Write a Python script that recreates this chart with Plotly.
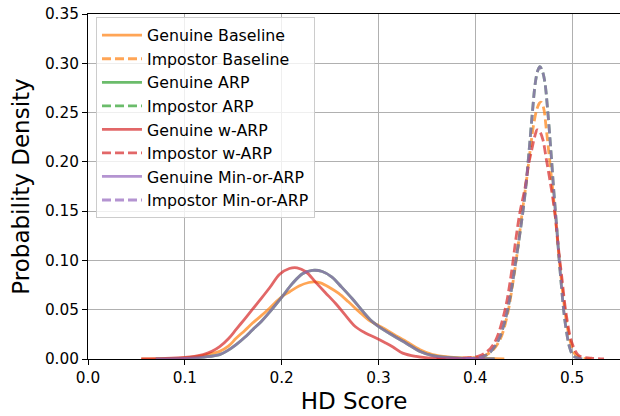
import plotly.graph_objects as go

# ---- Genuine score densities ----
genuine_baseline_x = [0.055, 0.08, 0.10, 0.115, 0.125, 0.136, 0.145, 0.153, 0.162, 0.170, 0.179,
                      0.188, 0.200, 0.208, 0.218, 0.228, 0.234, 0.240, 0.249, 0.259, 0.269, 0.280,
                      0.290, 0.300, 0.310, 0.320, 0.329, 0.343, 0.356, 0.374, 0.400, 0.430]
genuine_baseline_y = [0.0, 0.0004, 0.0012, 0.003, 0.005, 0.0077, 0.013, 0.021, 0.029, 0.0365, 0.044,
                      0.052, 0.063, 0.068, 0.074, 0.0776, 0.0782, 0.0772, 0.0728, 0.0665, 0.058, 0.048,
                      0.0395, 0.034, 0.0285, 0.0225, 0.0175, 0.0094, 0.0044, 0.002, 0.0008, 0.0]

genuine_warp_x = [0.055, 0.08, 0.10, 0.11, 0.119, 0.128, 0.136, 0.145, 0.153, 0.162, 0.170, 0.179,
                  0.188, 0.198, 0.208, 0.216, 0.225, 0.235, 0.245, 0.256, 0.266, 0.276, 0.287,
                  0.297, 0.307, 0.315, 0.325, 0.339, 0.356, 0.380, 0.410]
genuine_warp_y = [0.0, 0.0005, 0.0015, 0.0026, 0.0044, 0.0078, 0.0125, 0.0205, 0.030, 0.0408, 0.0505, 0.0615,
                  0.0728, 0.086, 0.0918, 0.0925, 0.0885, 0.078, 0.0675, 0.056, 0.0442, 0.033, 0.0262,
                  0.0215, 0.0165, 0.0122, 0.006, 0.0026, 0.0008, 0.0002, 0.0]

genuine_minarp_x = [0.070, 0.10, 0.12, 0.136, 0.145, 0.153, 0.162, 0.170, 0.179, 0.188, 0.200,
                    0.211, 0.2215, 0.2317, 0.242, 0.252, 0.262, 0.273, 0.283, 0.293, 0.303,
                    0.315, 0.329, 0.343, 0.356, 0.374, 0.400, 0.420]
genuine_minarp_y = [0.0, 0.0006, 0.002, 0.0044, 0.009, 0.0145, 0.022, 0.0297, 0.038, 0.048, 0.0625,
                    0.0764, 0.0865, 0.0899, 0.0888, 0.0831, 0.0729, 0.0611, 0.0493, 0.0385, 0.031,
                    0.0238, 0.0158, 0.0077, 0.0034, 0.0014, 0.0004, 0.0]

# ARP genuine scores follow the Min-or-ARP curve
genuine_arp_x = list(genuine_minarp_x)
genuine_arp_y = list(genuine_minarp_y)

# ---- Impostor score densities ----
impostor_baseline_x = [0.380, 0.398, 0.407, 0.4165, 0.4255, 0.433, 0.4385, 0.4435, 0.448, 0.4525,
                       0.4565, 0.460, 0.4635, 0.4662, 0.468, 0.4705, 0.4735, 0.477, 0.481, 0.4845,
                       0.4875, 0.4905, 0.4945, 0.4985, 0.503, 0.510, 0.520]
impostor_baseline_y = [0.0, 0.001, 0.0025, 0.0075, 0.0195, 0.044, 0.075, 0.109, 0.145, 0.178,
                       0.210, 0.236, 0.253, 0.2595, 0.2605, 0.255, 0.232, 0.200, 0.162, 0.125,
                       0.094, 0.066, 0.036, 0.0165, 0.005, 0.001, 0.0]

impostor_warp_x = [0.360, 0.390, 0.405, 0.4155, 0.422, 0.431, 0.437, 0.442, 0.446, 0.4515, 0.455,
                   0.4585, 0.4615, 0.464, 0.4665, 0.470, 0.473, 0.4765, 0.4795, 0.483, 0.4862,
                   0.4895, 0.494, 0.500, 0.507, 0.520, 0.533]
impostor_warp_y = [0.0, 0.001, 0.0035, 0.0105, 0.021, 0.051, 0.085, 0.122, 0.148, 0.174, 0.197,
                   0.213, 0.226, 0.2325, 0.231, 0.222, 0.205, 0.185, 0.167, 0.142, 0.110,
                   0.082, 0.045, 0.016, 0.0035, 0.0008, 0.0]

impostor_minarp_x = [0.390, 0.4068, 0.4145, 0.4241, 0.431, 0.4365, 0.4415, 0.4465, 0.4515, 0.4555,
                     0.459, 0.462, 0.4645, 0.4668, 0.4692, 0.4718, 0.475, 0.478, 0.481, 0.484,
                     0.488, 0.493, 0.498, 0.5015, 0.508, 0.515]
impostor_minarp_y = [0.0, 0.0023, 0.006, 0.0195, 0.040, 0.066, 0.097, 0.130, 0.168, 0.210,
                     0.250, 0.280, 0.2925, 0.2965, 0.2925, 0.2815, 0.250, 0.2128, 0.172, 0.135,
                     0.085, 0.036, 0.010, 0.003, 0.0005, 0.0]

impostor_arp_x = list(impostor_minarp_x)
impostor_arp_y = list(impostor_minarp_y)

series = [
    ("Genuine Baseline", genuine_baseline_x, genuine_baseline_y, "#ff7f0e", "solid"),
    ("Impostor Baseline", impostor_baseline_x, impostor_baseline_y, "#ff7f0e", "dash"),
    ("Genuine ARP", genuine_arp_x, genuine_arp_y, "#2ca02c", "solid"),
    ("Impostor ARP", impostor_arp_x, impostor_arp_y, "#2ca02c", "dash"),
    ("Genuine w-ARP", genuine_warp_x, genuine_warp_y, "#d62728", "solid"),
    ("Impostor w-ARP", impostor_warp_x, impostor_warp_y, "#d62728", "dash"),
    ("Genuine Min-or-ARP", genuine_minarp_x, genuine_minarp_y, "#9467bd", "solid"),
    ("Impostor Min-or-ARP", impostor_minarp_x, impostor_minarp_y, "#9467bd", "dash"),
]

FONT = "DejaVu Sans"

fig = go.Figure()
for i, (name, xs, ys, color, style) in enumerate(series):
    fig.add_trace(go.Scatter(
        x=xs, y=ys, mode="lines", name=name,
        legendgroup=f"g{i}",
        opacity=0.7,
        line=dict(color=color, width=2.8, shape="spline", smoothing=1.0,
                  dash="solid" if style == "solid" else "9px,4px"),
        hoverinfo="skip",
    ))

axis_common = dict(
    showline=True, linecolor="black", linewidth=1,
    ticks="outside", ticklen=5, tickwidth=1, tickcolor="black",
    showgrid=True, gridcolor="#b0b0b0", gridwidth=1,
    zeroline=False,
    tickfont=dict(family=FONT, size=15.3, color="black"),
)

fig.update_layout(
    width=620, height=416,
    margin=dict(l=88, r=0, t=14, b=57),
    paper_bgcolor="white", plot_bgcolor="white",
    font=dict(family=FONT, color="black"),
    xaxis=dict(
        range=[0, 0.5495], tick0=0, dtick=0.1, tickformat=".1f", mirror=True,
        title=dict(text="HD Score", font=dict(family=FONT, size=23), standoff=6),
        **axis_common,
    ),
    yaxis=dict(
        range=[0, 0.35], tick0=0, dtick=0.05, tickformat=".2f",
        title=dict(text="Probability Density", font=dict(family=FONT, size=23), standoff=8),
        **axis_common,
    ),
    legend=dict(
        x=0.015, y=0.99, xanchor="left", yanchor="top",
        bgcolor="rgba(255,255,255,0.8)", bordercolor="#cccccc", borderwidth=1,
        font=dict(family=FONT, size=15.8, color="black"),
        tracegroupgap=0, itemwidth=40,
    ),
    showlegend=True,
)

fig.write_html("out.html")
